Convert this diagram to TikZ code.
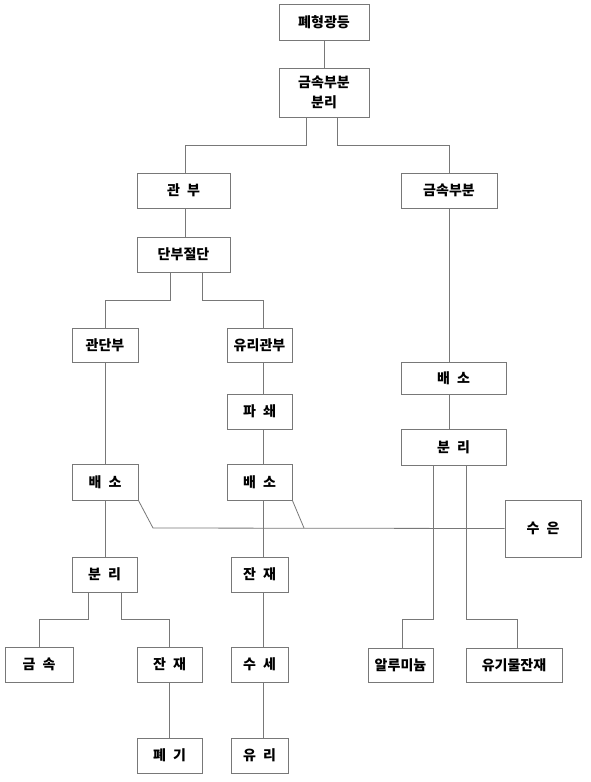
\documentclass[tikz,border=0pt]{standalone}
\usepackage{fontspec}
\setmainfont{Noto Sans CJK KR}
\newcommand{\gp}{\hspace{0.5em}}
\begin{document}
\begin{tikzpicture}[x=0.75pt,y=-0.75pt,
  bx/.style 2 args={draw=lineg, line width=0.6pt, fill=white, inner sep=0pt,
    minimum width=#1*0.75pt, minimum height=#2*0.75pt, align=center,
    font=\fontsize{10.5}{14}\selectfont\bfseries},
  ln/.style={draw=lineg, line width=0.6pt}]
\definecolor{lineg}{RGB}{120,120,120}
\useasboundingbox[fill=white] (0,0) rectangle (590,782);
% nodes
\node[bx={90}{36}] (top) at (324,22) {폐형광등};
\node[bx={90}{49}] (sep) at (324,92.5) {금속부분\\[1pt]분리};
\node[bx={93}{35}] (gwan) at (183.5,190.5) {관\gp 부};
\node[bx={96}{35}] (gmr) at (449,190.5) {금속부분};
\node[bx={93}{35}] (dan) at (183.5,254.5) {단부절단};
\node[bx={66}{34}] (gdb) at (105,345) {관단부};
\node[bx={65}{34}] (ygb) at (259.5,345) {유리관부};
\node[bx={65}{35}] (pas) at (259.5,411.5) {파\gp 쇄};
\node[bx={66}{36}] (bs1) at (105,482) {배\gp 소};
\node[bx={65}{36}] (bs2) at (259.5,482) {배\gp 소};
\node[bx={105}{32}] (bsR) at (453.5,378) {배\gp 소};
\node[bx={105}{36}] (bnR) at (453.5,447) {분\gp 리};
\node[bx={76}{57}] (sue) at (543,528.5) {수\gp 은};
\node[bx={65}{35}] (bn1) at (104.5,574.5) {분\gp 리};
\node[bx={57}{35}] (jj2) at (259.5,574.5) {잔\gp 재};
\node[bx={68}{35}] (gs) at (39,664.5) {금\gp 속};
\node[bx={65}{35}] (jj1) at (169.5,664.5) {잔\gp 재};
\node[bx={57}{35}] (ss) at (259.5,664.5) {수\gp 세};
\node[bx={65}{35}] (pg) at (169.5,755.5) {폐\gp 기};
\node[bx={57}{35}] (yr) at (259.5,755.5) {유\gp 리};
\node[bx={65}{34}] (al) at (400.5,665) {알루미늄};
\node[bx={96}{34}] (yg) at (514,665) {유기물잔재};
\coordinate (m1) at (153,528);
\coordinate (m2) at (304,528);
% connectors
\draw[ln] (top.south) -- (sep.north);
\draw[ln] (sep.south -| 306,0) -- ++(0,28) -| (gwan.north -| 185,0);
\draw[ln] (sep.south -| 337,0) -- ++(0,28) -| (gmr.north);
\draw[ln] (gwan.south -| 185,0) -- (dan.north -| 185,0);
\draw[ln] (dan.south -| 170,0) -- ++(0,28) -| (gdb.north);
\draw[ln] (dan.south -| 202,0) -- ++(0,28) -| (ygb.north -| 263,0);
\draw[ln] (gdb.south) -- (bs1.north);
\draw[ln] (ygb.south -| 263,0) -- (pas.north -| 263,0);
\draw[ln] (pas.south -| 263,0) -- (bs2.north -| 263,0);
\draw[ln] (bs2.south -| 263,0) -- (jj2.north -| 263,0);
\draw[ln] (jj2.south -| 263,0) -- (ss.north -| 263,0);
\draw[ln] (ss.south -| 263,0) -- (yr.north -| 263,0);
\draw[ln] (bs1.south) -- (bn1.north -| bs1.south);
\draw[ln] (bn1.south -| 88,0) -- ++(0,27) -| (gs.north);
\draw[ln] (bn1.south -| 121,0) -- ++(0,27) -| (jj1.north -| 169,0);
\draw[ln] (jj1.south -| 169,0) -- (pg.north -| 169,0);
\draw[ln] (gmr.south) -- (bsR.north -| gmr.south);
\draw[ln] (bsR.south -| gmr.south) -- (bnR.north -| gmr.south);
\draw[ln] (bnR.south -| 433,0) -- ++(0,154) -| (al.north -| 402,0);
\draw[ln] (bnR.south -| 466,0) -- ++(0,154) -| (yg.north -| 517,0);
\draw[ln] (bs1.south east) -- (m1) -- (sue.west);
\draw[ln] (bs2.south east) -- (m2);
\end{tikzpicture}
\end{document}
